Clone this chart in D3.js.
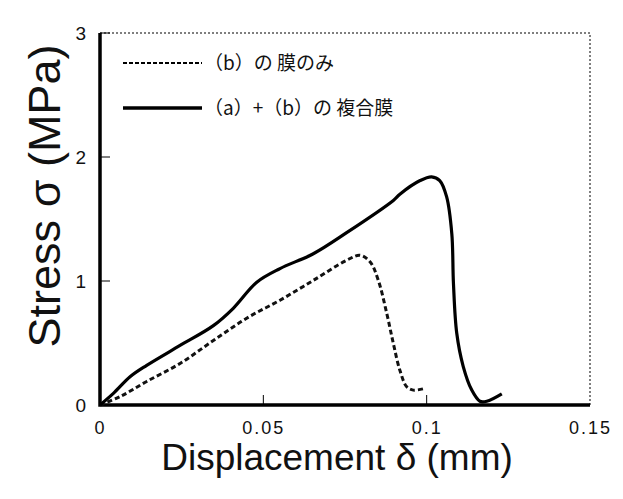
<!DOCTYPE html>
<html>
<head>
<meta charset="utf-8">
<script src="https://cdn.jsdelivr.net/npm/d3@7"></script>
<style>
  html, body { margin: 0; padding: 0; background: #fff; }
  svg { display: block; }
</style>
</head>
<body>
<div id="chart"></div>
<script>
// film (b) only - dashed
var filmBX = [0, 0.0061, 0.0143, 0.0245, 0.0347, 0.0449, 0.0551, 0.0653, 0.0755, 0.0796, 0.0827, 0.0852, 0.0878, 0.0898, 0.0918, 0.0939, 0.0959, 0.0995];
var filmBY = [0, 0.067, 0.19, 0.335, 0.52, 0.70, 0.845, 1.005, 1.167, 1.207, 1.153, 1.005, 0.737, 0.496, 0.28, 0.147, 0.12, 0.134];

// composite film (a)+(b) - solid
var compX = [0, 0.0041, 0.0092, 0.0143, 0.0245, 0.0347, 0.0408, 0.048, 0.0551, 0.0653, 0.0755, 0.0898, 0.0918, 0.098, 0.1015, 0.104, 0.1061, 0.1077, 0.1082, 0.1092, 0.1112, 0.1138, 0.1163, 0.1184, 0.123];
var compY = [0, 0.094, 0.228, 0.32, 0.48, 0.64, 0.78, 0.99, 1.10, 1.22, 1.39, 1.65, 1.70, 1.81, 1.84, 1.81, 1.68, 1.38, 0.98, 0.58, 0.31, 0.12, 0.03, 0.03, 0.09];

var xTicks = [0, 0.05, 0.1, 0.15];
var xTickLabels = ["0", "0.05", "0.1", "0.15"];
var yTicks = [0, 1, 2, 3];
var yTickLabels = ["0", "1", "2", "3"];

var legendLabels = ["（b）の 膜のみ", "（a）+（b）の 複合膜"];

var width = 623, height = 499;
var margin = {left: 100, right: 33, top: 33, bottom: 94};

var svg = d3.select('#chart').append('svg')
    .attr('width', width)
    .attr('height', height);

var x = d3.scaleLinear().domain([0, 0.15]).range([margin.left, width - margin.right]);
var y = d3.scaleLinear().domain([0, 3]).range([height - margin.bottom, margin.top]);

// dotted top / right frame
svg.append('path')
    .attr('d', 'M' + x(0) + ',' + y(3) + 'H' + x(0.15) + 'V' + y(0))
    .attr('fill', 'none')
    .attr('stroke', '#555')
    .attr('stroke-width', 1.5)
    .attr('stroke-dasharray', '2,2');

// x axis
var xAxis = d3.axisBottom(x)
    .tickValues(xTicks)
    .tickSize(0)
    .tickPadding(16)
    .tickFormat(function(d, i) { return xTickLabels[i]; });
var gx = svg.append('g')
    .attr('transform', 'translate(0,' + y(0) + ')')
    .call(xAxis);
gx.select('.domain').remove();
gx.selectAll('text')
    .attr('font-family', 'Liberation Sans, Arial, sans-serif')
    .attr('font-size', 18)
    .attr('letter-spacing', 2)
    .attr('fill', '#111');

// inward x ticks
svg.selectAll('.xtick').data(xTicks.slice(1, 3)).enter().append('line')
    .attr('class', 'xtick')
    .attr('x1', function(d) { return x(d); })
    .attr('x2', function(d) { return x(d); })
    .attr('y1', y(0))
    .attr('y2', y(0) - 10)
    .attr('stroke', '#000')
    .attr('stroke-width', 1);

// y axis
var yAxis = d3.axisLeft(y)
    .tickValues(yTicks)
    .tickSize(0)
    .tickPadding(14)
    .tickFormat(function(d, i) { return yTickLabels[i]; });
var gy = svg.append('g')
    .attr('transform', 'translate(' + x(0) + ',0)')
    .call(yAxis);
gy.select('.domain').remove();
gy.selectAll('text')
    .attr('font-family', 'Liberation Sans, Arial, sans-serif')
    .attr('font-size', 19)
    .attr('fill', '#111');

svg.selectAll('.ytick').data(yTicks.slice(1)).enter().append('line')
    .attr('class', 'ytick')
    .attr('x1', x(0))
    .attr('x2', x(0) + 10)
    .attr('y1', function(d) { return y(d); })
    .attr('y2', function(d) { return y(d); })
    .attr('stroke', '#000')
    .attr('stroke-width', 1);

// thick left and bottom axis lines
svg.append('path')
    .attr('d', 'M' + x(0) + ',' + y(3) + 'V' + y(0) + 'H' + x(0.15))
    .attr('fill', 'none')
    .attr('stroke', '#000')
    .attr('stroke-width', 3.5);

// curves
var lineFree = d3.line()
    .x(function(d) { return x(d[0]); })
    .y(function(d) { return y(d[1]); })
    .curve(d3.curveCatmullRom.alpha(0.5));

svg.append('path')
    .datum(d3.zip(filmBX, filmBY))
    .attr('d', lineFree)
    .attr('fill', 'none')
    .attr('stroke', '#111')
    .attr('stroke-width', 3)
    .attr('stroke-dasharray', '5,3');

svg.append('path')
    .datum(d3.zip(compX, compY))
    .attr('d', lineFree)
    .attr('fill', 'none')
    .attr('stroke', '#000')
    .attr('stroke-width', 3.2);

// legend
var legend = svg.append('g');
var legendRows = [
    {dash: '4,2', label: legendLabels[0], y: 63},
    {dash: null, label: legendLabels[1], y: 108}
];
legendRows.forEach(function(r) {
    legend.append('line')
        .attr('x1', 123).attr('x2', 202)
        .attr('y1', r.y).attr('y2', r.y)
        .attr('stroke', '#000')
        .attr('stroke-width', r.dash ? 2 : 3.5)
        .attr('stroke-dasharray', r.dash);
    legend.append('text')
        .attr('x', 204)
        .attr('y', r.y)
        .attr('dy', '0.36em')
        .attr('font-family', 'Noto Sans CJK JP, sans-serif')
        .attr('font-size', 19)
        .attr('fill', '#111')
        .text(r.label);
});

// axis titles
svg.append('text')
    .attr('x', (x(0) + x(0.15)) / 2 - 8)
    .attr('y', 470)
    .attr('text-anchor', 'middle')
    .attr('font-family', 'Liberation Sans, Arial, sans-serif')
    .attr('font-size', 37)
    .attr('fill', '#111')
    .text('Displacement δ (mm)');

svg.append('text')
    .attr('transform', 'translate(60,196) rotate(-90)')
    .attr('text-anchor', 'middle')
    .attr('font-family', 'Liberation Sans, Arial, sans-serif')
    .attr('font-size', 45)
    .attr('fill', '#111')
    .text('Stress σ (MPa)');
</script>
</body>
</html>
